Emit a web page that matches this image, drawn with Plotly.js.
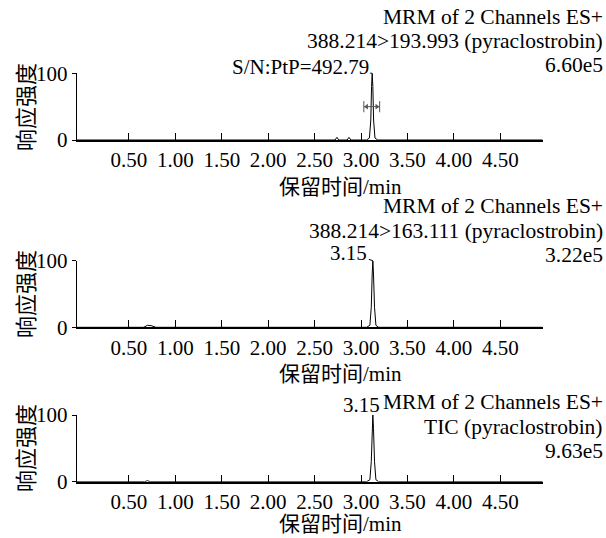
<!DOCTYPE html>
<html>
<head>
<meta charset="utf-8">
<script src="https://cdn.plot.ly/plotly-3.0.1.min.js"></script>
<style>html,body{margin:0;padding:0;background:#fff;}#chart{width:606px;height:538px;}</style>
</head>
<body>
<div id="chart"></div>
<script>
// ---- data ----
const tickVals = [0.5, 1.0, 1.5, 2.0, 2.5, 3.0, 3.5, 4.0, 4.5];
const tickText = ["0.50","1.00","1.50","2.00","2.50","3.00","3.50","4.00","4.50"];
const xRange = [-0.062, 4.956];

const time1 = [-0.062, 2.72, 2.74, 2.76, 2.85, 2.87, 2.89, 3.06, 3.09, 3.105, 3.113, 3.12, 3.127, 3.135, 3.15, 3.18, 4.956];
const int1  = [0, 0, 4, 0, 0, 4, 0, 0, 3, 30, 80, 100, 80, 30, 3, 0, 0];
const time2 = [-0.062, 0.66, 0.70, 0.74, 0.79, 3.06, 3.095, 3.11, 3.12, 3.127, 3.134, 3.145, 3.16, 3.19, 4.956];
const int2  = [0, 0, 3, 2.5, 0, 0, 3, 30, 80, 100, 80, 30, 3, 0, 0];
const time3 = [-0.062, 0.67, 0.70, 0.73, 3.06, 3.095, 3.11, 3.12, 3.127, 3.134, 3.145, 3.16, 3.19, 4.956];
const int3  = [0, 0, 1.5, 0, 0, 3, 30, 80, 100, 80, 30, 3, 0, 0];

const widthMarkX = [3.03, 3.20];
const widthMarkY = [50, 50];
const widthArrowX = [3.06, 3.17];

const header1 = ["MRM of 2 Channels ES+", "388.214>193.993 (pyraclostrobin)", "6.60e5"];
const header2 = ["MRM of 2 Channels ES+", "388.214>163.111 (pyraclostrobin)", "3.22e5"];
const header3 = ["MRM of 2 Channels ES+", "TIC (pyraclostrobin)", "9.63e5"];
const peakLabel1 = "S/N:PtP=492.79";
const peakLabel2 = "3.15";
const peakLabel3 = "3.15";
const xTitle = "保留时间/min";
const yTitle = "响应强度";

// ---- layout helpers ----
const W = 606, H = 538;
const px = x => x / W;
const py = y => 1 - y / H;
const SERIF = "Liberation Serif";
const MIXED = "Liberation Serif, Noto Sans CJK SC";
const FS = 21, HFS = 21.5;

const panels = [
  {top: 73.3, bottom: 140.0, header: header1, hy: [17, 41, 65], xt: 187, yt: 107},
  {top: 260.7, bottom: 327.3, header: header2, hy: [206, 231, 255], xt: 374, yt: 294},
  {top: 415.0, bottom: 481.7, header: header3, hy: [402, 427, 451], xt: 524, yt: 448}
];

const traces = [
  {x: time1, y: int1, xaxis: 'x', yaxis: 'y', type: 'scatter', mode: 'lines', line: {color: '#000', width: 1}, hoverinfo: 'skip'},
  {x: time2, y: int2, xaxis: 'x2', yaxis: 'y2', type: 'scatter', mode: 'lines', line: {color: '#000', width: 1}, hoverinfo: 'skip'},
  {x: time3, y: int3, xaxis: 'x3', yaxis: 'y3', type: 'scatter', mode: 'lines', line: {color: '#000', width: 1}, hoverinfo: 'skip'},
  {x: widthMarkX, y: widthMarkY, xaxis: 'x', yaxis: 'y', type: 'scatter', mode: 'lines+markers',
   line: {color: '#555', width: 1}, marker: {symbol: 'line-ns-open', size: 8, color: '#555', line: {width: 1, color: '#555'}}, hoverinfo: 'skip'},
  {x: widthArrowX, y: widthMarkY, xaxis: 'x', yaxis: 'y', type: 'scatter', mode: 'markers',
   marker: {symbol: ['triangle-left', 'triangle-right'], size: 5, color: '#555'}, hoverinfo: 'skip'}
];

const layout = {
  width: W, height: H,
  margin: {l: 0, r: 0, t: 0, b: 0},
  paper_bgcolor: '#fff', plot_bgcolor: '#fff',
  showlegend: false,
  annotations: [],
  font: {family: SERIF, size: FS, color: '#000'}
};

const xdom = [px(76.7), px(542.7)];
panels.forEach((p, i) => {
  const s = i === 0 ? '' : String(i + 1);
  layout['xaxis' + s] = {
    domain: xdom, range: xRange, anchor: 'y' + s,
    showline: true, linewidth: 2, linecolor: '#000', mirror: false,
    ticks: 'inside', ticklen: 7, tickwidth: 1, tickcolor: '#000',
    tickvals: tickVals, ticktext: tickText, showgrid: false, zeroline: false,
    tickfont: {family: SERIF, size: FS, color: '#000'}, fixedrange: true
  };
  layout['yaxis' + s] = {
    domain: [py(p.bottom), py(p.top)], range: [0, 100], anchor: 'x' + s,
    showline: true, linewidth: 1, linecolor: '#000',
    ticks: 'outside', ticklen: 4, tickwidth: 1, tickcolor: '#000',
    tickvals: [0, 100], ticktext: ['0', '100'], showgrid: false, zeroline: false,
    tickfont: {family: SERIF, size: FS, color: '#000'}, fixedrange: true
  };
  p.header.forEach((t, k) => {
    layout.annotations.push({xref: 'paper', yref: 'paper', x: px(605), y: py(p.hy[k]),
      xanchor: 'right', yanchor: 'middle', text: t, showarrow: false,
      font: {family: SERIF, size: HFS, color: '#000'}});
  });
  layout.annotations.push({xref: 'paper', yref: 'paper', x: px(340), y: py(p.xt),
    xanchor: 'center', yanchor: 'middle', text: xTitle, showarrow: false,
    font: {family: MIXED, size: FS, color: '#000'}});
  layout.annotations.push({xref: 'paper', yref: 'paper', x: px(24), y: py(p.yt),
    xanchor: 'center', yanchor: 'middle', text: yTitle, showarrow: false, textangle: -90,
    font: {family: "Noto Sans CJK SC", size: 22, color: '#000'}});
});

// peak labels, anchored on the peak apex
layout.annotations.push({xref: 'x', yref: 'y', x: time1[int1.indexOf(100)], y: 100,
  text: peakLabel1, showarrow: true, arrowhead: 0, arrowwidth: 1, arrowcolor: '#000',
  ax: -72, ay: -6, font: {family: SERIF, size: FS, color: '#000'}});
layout.annotations.push({xref: 'x2', yref: 'y2', x: time2[int2.indexOf(100)], y: 100,
  text: peakLabel2, showarrow: true, arrowhead: 0, arrowwidth: 1, arrowcolor: '#000',
  ax: -24, ay: -8, font: {family: SERIF, size: FS, color: '#000'}});
layout.annotations.push({xref: 'x3', yref: 'y3', x: time3[int3.indexOf(100)], y: 100,
  text: peakLabel3, showarrow: false, xanchor: 'center', yanchor: 'bottom', xshift: -11, yshift: -4,
  font: {family: SERIF, size: FS, color: '#000'}});

Plotly.newPlot('chart', traces, layout, {staticPlot: true, displayModeBar: false});
</script>
</body>
</html>
